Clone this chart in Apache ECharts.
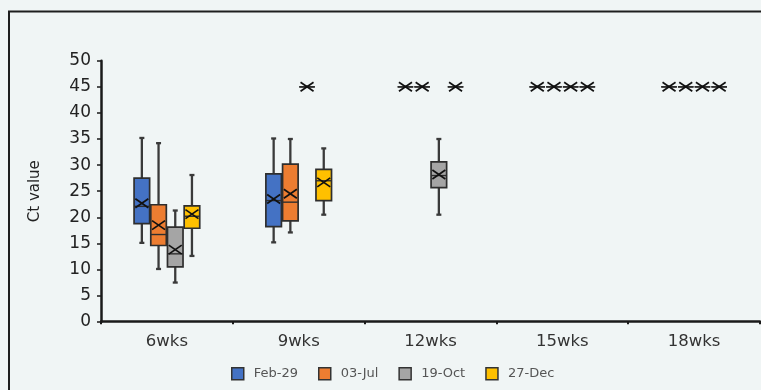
<!DOCTYPE html>
<html>
<head>
<meta charset="utf-8">
<script src="https://cdn.jsdelivr.net/npm/echarts@6/dist/echarts.min.js"></script>
<style>
html,body{margin:0;padding:0;background:#f0f5f5;}
#c{width:761px;height:390px;}
</style>
</head>
<body>
<div id="c"></div>
<script>
// Categories and tick labels
const categories = ['6wks', '9wks', '12wks', '15wks', '18wks'];
const seriesNames = ['Feb-29', '03-Jul', '19-Oct', '27-Dec'];
const seriesColors = ['#4472C4', '#ED7D31', '#A5A5A5', '#FFC000'];

// Box values per category: [min, Q1, median, Q3, max]
const feb29Box = [[15.1, 18.8, 22.1, 27.5, 35.2], [15.2, 18.2, 23.2, 28.3, 35.1], [45, 45, 45, 45, 45], [45, 45, 45, 45, 45], [45, 45, 45, 45, 45]];
const jul03Box = [[10.1, 14.6, 16.7, 22.4, 34.2], [17.1, 19.3, 22.9, 30.2, 35.0], [45, 45, 45, 45, 45], [45, 45, 45, 45, 45], [45, 45, 45, 45, 45]];
const oct19Box = [[7.5, 10.5, 13.0, 18.1, 21.3], [45, 45, 45, 45, 45], [20.5, 25.7, 28.0, 30.6, 35.0], [45, 45, 45, 45, 45], [45, 45, 45, 45, 45]];
const dec27Box = [[12.6, 17.9, 20.2, 22.2, 28.1], [20.5, 23.2, 27.0, 29.2, 33.2], [45, 45, 45, 45, 45], [45, 45, 45, 45, 45], [45, 45, 45, 45, 45]];

// Mean values (X markers)
const feb29Mean = [22.7, 23.5, 45, 45, 45];
const jul03Mean = [18.5, 24.5, 45, 45, 45];
const oct19Mean = [13.8, 45, 28.2, 45, 45];
const dec27Mean = [20.6, 26.7, 45, 45, 45];

const yTicks = [0, 5, 10, 15, 20, 25, 30, 35, 40, 45, 50];

const boxes = [feb29Box, jul03Box, oct19Box, dec27Box];
const means = [feb29Mean, jul03Mean, oct19Mean, dec27Mean];

function makeRender(si) {
  return function (params, api) {
    const cat = api.value(0);
    const band = api.size([1, 0])[0];
    const step = band * 0.1267;
    const bw = band * 0.118;
    const cx = api.coord([cat, 0])[0] + (si - 1.5) * step;
    const y = i => api.coord([cat, api.value(i)])[1];
    const yMin = y(1), yQ1 = y(2), yMed = y(3), yQ3 = y(4), yMax = y(5), yMean = y(6);
    const color = api.visual('color');
    const cap = 2.5, mx = 6.5, my = 4.5;
    const ws = {stroke: '#3a3a3a', lineWidth: 2.3};
    const ks = {stroke: '#111', lineWidth: 1.7};
    return {
      type: 'group',
      children: [
        {type: 'line', shape: {x1: cx, y1: yMin, x2: cx, y2: yQ1}, style: ws},
        {type: 'line', shape: {x1: cx, y1: yQ3, x2: cx, y2: yMax}, style: ws},
        {type: 'line', shape: {x1: cx - cap, y1: yMin, x2: cx + cap, y2: yMin}, style: ws},
        {type: 'line', shape: {x1: cx - cap, y1: yMax, x2: cx + cap, y2: yMax}, style: ws},
        {type: 'rect', shape: {x: cx - bw / 2, y: yQ3, width: bw, height: yQ1 - yQ3},
          style: {fill: color, stroke: '#2e2e2e', lineWidth: 1.7}},
        {type: 'line', shape: {x1: cx - bw / 2, y1: yMed, x2: cx + bw / 2, y2: yMed}, style: {stroke: '#2e2e2e', lineWidth: 1.4}},
        {type: 'line', shape: {x1: cx - mx, y1: yMean - my, x2: cx + mx, y2: yMean + my}, style: ks},
        {type: 'line', shape: {x1: cx - mx, y1: yMean + my, x2: cx + mx, y2: yMean - my}, style: ks}
      ]
    };
  };
}

const series = seriesNames.map((name, si) => ({
  name: name,
  type: 'custom',
  renderItem: makeRender(si),
  itemStyle: {color: seriesColors[si], borderColor: '#333', borderWidth: 1.5},
  encode: {x: 0, y: [1, 2, 3, 4, 5, 6]},
  data: categories.map((c, ci) => [ci].concat(boxes[si][ci], [means[si][ci]]))
}));

const chart = echarts.init(document.getElementById('c'), null, {renderer: 'canvas'});
chart.setOption({
  backgroundColor: '#f0f5f5',
  animation: false,
  textStyle: {fontFamily: 'DejaVu Sans'},
  graphic: [{
    type: 'rect', z: 100, silent: true,
    shape: {x: 9, y: 11.5, width: 800, height: 420},
    style: {fill: 'none', stroke: '#1e1e1e', lineWidth: 2}
  }],
  grid: {left: 101, right: 1, top: 60.7, bottom: 68.3, containLabel: false},
  legend: {
    data: seriesNames,
    left: 231, top: 367, padding: 0,
    itemWidth: 12, itemHeight: 12, itemGap: 20,
    icon: 'rect',
    itemStyle: {borderColor: '#333', borderWidth: 1.5},
    textStyle: {fontSize: 13, color: '#555', fontFamily: 'DejaVu Sans', padding: [0, 0, 0, 5]}
  },
  xAxis: {
    type: 'category',
    data: categories,
    boundaryGap: true,
    axisLine: {lineStyle: {color: '#1a1a1a', width: 2.5}},
    axisTick: {show: true, length: 2.5, lineStyle: {color: '#1a1a1a', width: 2}},
    axisLabel: {fontSize: 16.5, color: '#333', margin: 12, fontFamily: 'DejaVu Sans'},
    splitLine: {show: false}
  },
  yAxis: {
    type: 'value',
    min: yTicks[0], max: yTicks[yTicks.length - 1], interval: 5,
    name: 'Ct value',
    nameLocation: 'middle',
    nameGap: 58,
    nameTextStyle: {fontSize: 15, color: '#222', fontFamily: 'DejaVu Sans'},
    axisLine: {show: true, lineStyle: {color: '#1a1a1a', width: 2.5}},
    axisTick: {show: true, length: 4, lineStyle: {color: '#1a1a1a', width: 1.5}},
    axisLabel: {fontSize: 17, color: '#222', margin: 10, fontFamily: 'DejaVu Sans'},
    splitLine: {show: false}
  },
  series: series
});
</script>
</body>
</html>
